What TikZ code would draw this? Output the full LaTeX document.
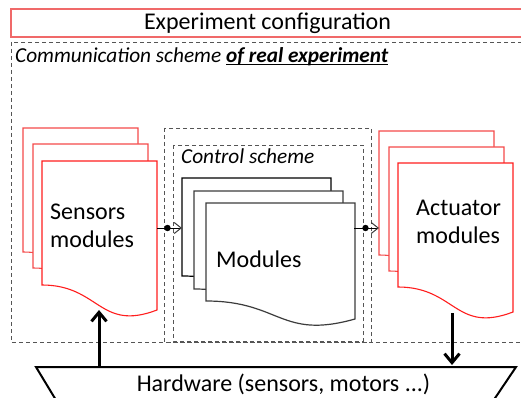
\documentclass[tikz,border=0pt]{standalone}
\usepackage{fontspec}
\setmainfont{Carlito}
\usetikzlibrary{arrows.meta}
\definecolor{cfgred}{RGB}{240,105,105}
\definecolor{docred}{RGB}{255,30,30}
\definecolor{docredb}{RGB}{245,75,75}
\definecolor{dashgray}{RGB}{85,85,85}
\definecolor{modgray}{RGB}{60,60,60}
\newcommand{\ulbold}[1]{\setbox0\hbox{#1}\rlap{\rule[-2.5pt]{\wd0}{1.2pt}}\box0}
\tikzset{
  dashbox/.style={draw=dashgray, line width=0.9pt, dash pattern=on 4pt off 3pt},
  reddoc/.pic={\draw[fill=white, line width=1.1pt, pic actions] (0,0) -- (115,0) -- (115,149) .. controls (57.5,171) and (57.5,124) .. (0,124) -- cycle;},
  moddoc/.pic={\draw[fill=white, line width=1.2pt, pic actions] (0,0) -- (149,0) -- (149,116) .. controls (74.5,137) and (74.5,98) .. (0,98) -- cycle;},
  bigtxt/.style={font=\fontsize{24}{28}\selectfont, inner sep=0pt},
  midtxt/.style={font=\fontsize{21.3}{25}\selectfont\itshape, inner sep=0pt},
  flowarrow/.style={draw=black, line width=0.9pt, -{Straight Barb[length=7pt,width=11pt,line width=1pt,color=modgray]}},
  hwarrow/.style={draw=black, line width=3pt, -{Straight Barb[length=9pt,width=15pt,line width=3pt]}},
}
\begin{document}
\begin{tikzpicture}[x=1pt, y=-1pt]
\useasboundingbox (0,0) rectangle (521,398);
\clip (0,0) rectangle (521,398);
\fill[white] (0,0) rectangle (521,398);

% experiment configuration
\draw[draw=cfgred, line width=2pt] (11,9) rectangle (530,37);
\node[bigtxt, anchor=base] (cfg) at (267.5,30) {Experiment configuration};

% dashed boxes
\draw[dashbox] (11,42) rectangle (530,342);
\node[midtxt, anchor=base west] (comm) at (15,63) {Communication scheme \ulbold{\bfseries of real experiment}};
\draw[dashbox] (164,128) rectangle (371,342);
\draw[dashbox] (173,145) rectangle (363,341);
\node[midtxt, anchor=base west] (ctrl) at (181,163) {Control scheme};

% sensor documents
\pic[draw=docredb] (sensA) at (23,128) {reddoc};
\pic[draw=docredb] (sensB) at (33,144) {reddoc};
\pic[draw=docred] (sensC) at (42,161) {reddoc};
\node[bigtxt, anchor=base west] (sens1) at (50,219) {Sensors};
\node[bigtxt, anchor=base west] (sens2) at (50,247) {modules};

% module documents
\pic[draw=black] (modA) at (182,178) {moddoc};
\pic[draw=modgray] (modB) at (194,191) {moddoc};
\pic[draw=modgray] (modC) at (206,203) {moddoc};
\node[bigtxt, anchor=base west] (mods) at (216,267) {Modules};

% actuator documents
\pic[draw=docredb] (actA) at (379,131) {reddoc};
\pic[draw=docredb] (actB) at (389,147) {reddoc};
\pic[draw=docred] (actC) at (398,163) {reddoc};
\node[bigtxt, anchor=base west] (act1) at (416,215) {Actuator};
\node[bigtxt, anchor=base west] (act2) at (416,243) {modules};

% connection points
\coordinate (sensOut) at (157,228);
\coordinate (modIn) at (182,228);
\coordinate (dot1) at (167.5,228);
\coordinate (modOut) at (354,228);
\coordinate (actIn) at (379,228);
\coordinate (dot2) at (365.5,228);
\draw[flowarrow] (sensOut) -- (modIn);
\fill[black] (dot1) circle (3.2pt);
\draw[flowarrow] (modOut) -- (actIn);
\fill[black] (dot2) circle (3.2pt);

% hardware
\coordinate (hwTL) at (36,367);
\coordinate (hwTR) at (516,367);
\coordinate (hwBL) at (62,410);
\coordinate (hwBR) at (487,410);
\draw[line width=2pt, fill=white, line join=miter] (hwBL) -- (hwTL) -- (hwTR) -- (hwBR);
\node[bigtxt, anchor=base] (hw) at (283.5,391) {Hardware (sensors, motors ...)};

\coordinate (hwUp) at (99,366);
\coordinate (sensBot) at (99,310);
\coordinate (actBot) at (452,313);
\coordinate (hwDown) at (452,365);
\draw[hwarrow] (hwUp) -- (sensBot);
\draw[hwarrow] (actBot) -- (hwDown);
\end{tikzpicture}
\end{document}
